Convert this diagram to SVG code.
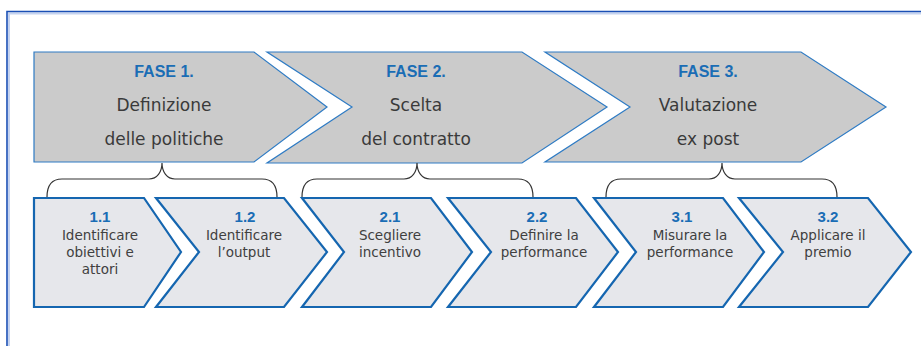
<svg xmlns="http://www.w3.org/2000/svg" width="921" height="346" viewBox="0 0 921 346">
<style>
.big{fill:#cbcbcb;stroke:#2e7bc4;stroke-width:1.2}
.small{fill:#e6e7eb;stroke:#1566b0;stroke-width:2.2;stroke-linejoin:miter}
.fase{font-family:"Liberation Sans",Arial,sans-serif;font-weight:bold;font-size:16px;fill:#1a6db5;text-anchor:middle}
.ph{font-family:"DejaVu Sans",sans-serif;font-size:17px;fill:#3a3a3a;text-anchor:middle}
.num{font-family:"Liberation Sans",Arial,sans-serif;font-weight:bold;font-size:15px;fill:#1a6db5;text-anchor:middle}
.st{font-family:"DejaVu Sans",sans-serif;font-size:13.5px;fill:#404040;text-anchor:middle}
.brace{fill:none;stroke:#333;stroke-width:1.2}
</style>
<rect width="921" height="346" fill="#fff"/>
<g id="frame">
<path d="M9,346 V13.5 H921" fill="none" stroke="#c5d3f0" stroke-width="2"/>
<path d="M7,346 V11.5 H921" fill="none" stroke="#1a4fb5" stroke-width="1.6"/>
</g>
<g id="fase1">
<polygon class="big" points="34,52 254,52 327,107 254,162 34,162"/>
<text class="fase" x="164" y="77">FASE 1.</text>
<text class="ph" x="164" y="111">Definizione</text>
<text class="ph" x="164" y="145">delle politiche</text>
</g>
<g id="fase2">
<polygon class="big" points="267,52 522,52 607,107 522,163 267,163 352,107"/>
<text class="fase" x="416" y="77">FASE 2.</text>
<text class="ph" x="416" y="111">Scelta</text>
<text class="ph" x="416" y="145">del contratto</text>
</g>
<g id="fase3">
<polygon class="big" points="545,52 801,52 886,107 801,162 545,162 630,107"/>
<text class="fase" x="708" y="77">FASE 3.</text>
<text class="ph" x="708" y="111">Valutazione</text>
<text class="ph" x="708" y="145">ex post</text>
</g>
<g id="connectors">
<path class="brace" d="M47,197 C47,186 51,179 62,179 L149,179 C157,179 162,172 162,163 C162,172 167,179 175,179 L262,179 C273,179 277,186 277,197"/>
<path class="brace" d="M302,197 C302,186 306,179 317,179 L404,179 C412,179 417,172 417,163 C417,172 422,179 430,179 L518,179 C529,179 533,186 533,197"/>
<path class="brace" d="M606,197 C606,186 610,179 621,179 L709,179 C717,179 722,172 722,163 C722,172 727,179 735,179 L822,179 C833,179 837,186 837,197"/>
</g>
<g id="s11">
<polygon class="small" points="34,198 144,198 181,252 144,307 34,307"/>
<text class="num" x="100" y="222">1.1</text>
<text class="st" x="100" y="240">Identificare</text>
<text class="st" x="100" y="257">obiettivi e</text>
<text class="st" x="100" y="274">attori</text>
</g>
<g id="s12">
<polygon class="small" points="156,198 284,198 327,252 284,307 156,307 199,252"/>
<text class="num" x="245" y="222">1.2</text>
<text class="st" x="244" y="240">Identificare</text>
<text class="st" x="244" y="257">l’output</text>
</g>
<g id="s21">
<polygon class="small" points="302,198 431,198 472,252 431,307 302,307 344,252"/>
<text class="num" x="390" y="222">2.1</text>
<text class="st" x="390" y="240">Scegliere</text>
<text class="st" x="390" y="257">incentivo</text>
</g>
<g id="s22">
<polygon class="small" points="448,198 576,198 618,252 576,307 448,307 491,252"/>
<text class="num" x="537" y="222">2.2</text>
<text class="st" x="544" y="240">Definire la</text>
<text class="st" x="544" y="257">performance</text>
</g>
<g id="s31">
<polygon class="small" points="594,198 723,198 764,252 723,307 594,307 636,252"/>
<text class="num" x="682" y="222">3.1</text>
<text class="st" x="690" y="240">Misurare la</text>
<text class="st" x="690" y="257">performance</text>
</g>
<g id="s32">
<polygon class="small" points="739,198 868,198 911,252 868,307 739,307 783,252"/>
<text class="num" x="828" y="222">3.2</text>
<text class="st" x="828" y="240">Applicare il</text>
<text class="st" x="828" y="257">premio</text>
</g>
</svg>
